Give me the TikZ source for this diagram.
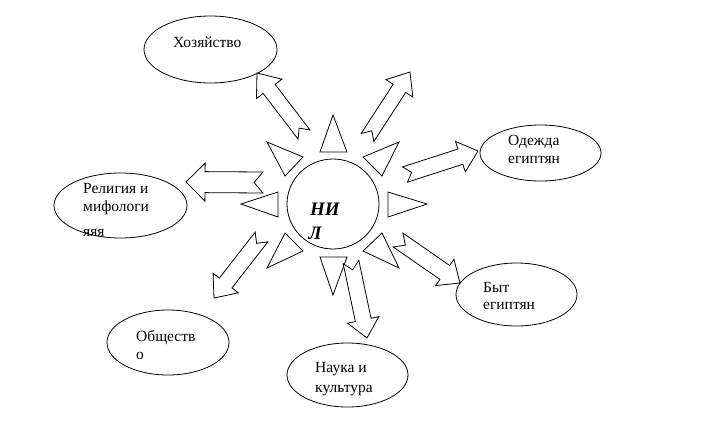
\documentclass[tikz,border=0pt]{standalone}
\usepackage{fontspec}
\setmainfont{Liberation Serif}
\usetikzlibrary{calc,shapes.geometric}
\tikzset{
  line/.style={draw=black,line width=0.8pt,line join=miter},
  oval/.style={ellipse,draw=black,line width=0.8pt,inner sep=0pt},
  ray/.style={draw=black,line width=0.8pt,fill=white},
  lbl/.style={anchor=base west,inner sep=0pt,font=\fontsize{15.5}{18}\selectfont},
}
% #1 tail centre, #2 tip, #3 shaft half width, #4 head half width, #5 head length, #6 notch depth
\newcommand\notcharrow[6]{%
  \coordinate (hb) at ($(#2)!#5!(#1)$);
  \coordinate (nt) at ($(#1)!#6!(#2)$);
  \draw[line,fill=white] ($(#1)!#3!90:(#2)$) -- ($(hb)!#3!-90:(#1)$) -- ($(hb)!#4!-90:(#1)$) -- (#2)
    -- ($(hb)!#4!90:(#1)$) -- ($(hb)!#3!90:(#1)$) -- ($(#1)!#3!-90:(#2)$) -- (nt) -- cycle;
}
\begin{document}
\begin{tikzpicture}[x=1pt,y=-1pt]
\useasboundingbox (0,0) rectangle (703,426);
\fill[white] (0,0) rectangle (703,426);

% ellipses
\node[oval,minimum width=133pt,minimum height=67pt] (hoz) at (210.5,49.5) {};
\node[oval,minimum width=133pt,minimum height=65pt] (rel) at (120.5,205.5) {};
\node[oval,minimum width=121pt,minimum height=56pt] (ode) at (540.5,153) {};
\node[oval,minimum width=122pt,minimum height=65pt] (obs) at (168,342.5) {};
\node[oval,minimum width=121pt,minimum height=63pt] (byt) at (516.5,294.5) {};
\node[oval,minimum width=121pt,minimum height=64pt] (nau) at (347.5,375) {};

% labels
\node[lbl] (thoz) at (173,47) {Хозяйство};
\node[lbl] (trel1) at (83,193) {Религия и};
\node[lbl] (trel2) at (83,211) {мифологи};
\node[lbl] (trel3) at (83,236) {яяя};
\node[lbl] (tode1) at (508,145) {Одежда};
\node[lbl] (tode2) at (508,163) {египтян};
\node[lbl] (tobs1) at (136,341) {Обществ};
\node[lbl] (tobs2) at (136,359) {о};
\node[lbl] (tbyt1) at (483,292) {Быт};
\node[lbl] (tbyt2) at (483,309) {египтян};
\node[lbl] (tnau1) at (315,372) {Наука и};
\node[lbl] (tnau2) at (315,392) {культура};

% sun
\node[oval,minimum width=92pt,minimum height=90pt] (nil) at (333,204) {};
\node[anchor=base west,inner sep=0pt,font=\fontsize{19}{24}\bfseries\itshape\selectfont] (nil1) at (310,215) {НИ};
\node[anchor=base west,inner sep=0pt,font=\fontsize{19}{24}\bfseries\itshape\selectfont] (nil2) at (308.5,239) {Л};

% rays
\draw[ray] (333,115) -- (320,152) -- (347,152) -- cycle;
\draw[ray] (333,295) -- (320,257) -- (347,257) -- cycle;
\draw[ray] (241,204) -- (278,192) -- (278,217) -- cycle;
\draw[ray] (427,204) -- (388,192) -- (388,217) -- cycle;
\draw[ray] (267,142) -- (303,157) -- (285,176) -- cycle;
\draw[ray] (399,142) -- (363,157) -- (382,176) -- cycle;
\draw[ray] (267,268) -- (285,233) -- (303,251) -- cycle;
\draw[ray] (399,268) -- (382,233) -- (363,251) -- cycle;

% arrow ends
\coordinate (a1t) at (304,134.5);  \coordinate (a1h) at (257,73);
\coordinate (a2t) at (367.5,137.5); \coordinate (a2h) at (410,72);
\coordinate (a3t) at (263,182.5);  \coordinate (a3h) at (186,182);
\coordinate (a4t) at (405,174.5);  \coordinate (a4h) at (478,151);
\coordinate (a5t) at (261.5,237);  \coordinate (a5h) at (214,298);
\coordinate (a6t) at (351,262);    \coordinate (a6h) at (367,338);
\coordinate (a7t) at (398,240);    \coordinate (a7h) at (460,283);

\notcharrow{a1t}{a1h}{7.5pt}{16pt}{20pt}{8pt}
\notcharrow{a2t}{a2h}{7.5pt}{16pt}{19.5pt}{8pt}
\notcharrow{a3t}{a3h}{10.5pt}{19pt}{19pt}{9pt}
\notcharrow{a4t}{a4h}{8pt}{16pt}{18.5pt}{7pt}
\notcharrow{a5t}{a5h}{8pt}{16pt}{19pt}{8pt}
\notcharrow{a6t}{a6h}{8pt}{16pt}{18.5pt}{8pt}
\notcharrow{a7t}{a7h}{8.5pt}{16pt}{18.5pt}{9pt}
\end{tikzpicture}
\end{document}
